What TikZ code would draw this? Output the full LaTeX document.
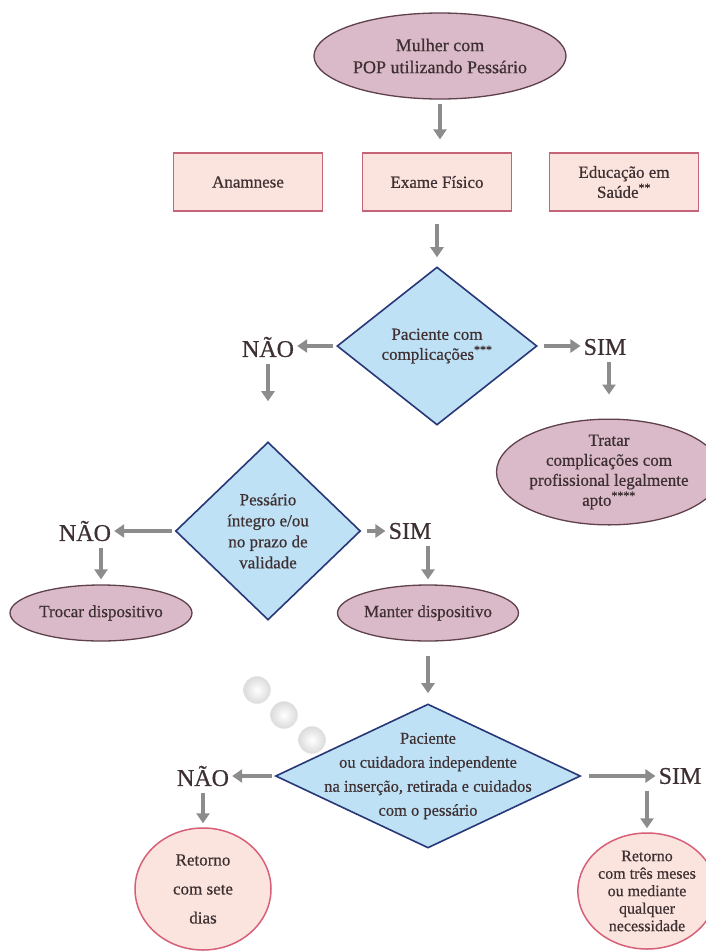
\documentclass[tikz,border=0pt]{standalone}
\usepackage{fontspec}
\setmainfont{Liberation Serif}[FakeBold=0.6]
\usetikzlibrary{shapes.geometric,arrows.meta,shadings}
\definecolor{txt}{RGB}{62,48,50}
\definecolor{ellfill}{RGB}{218,186,200}
\definecolor{elldraw}{RGB}{95,65,75}
\definecolor{boxfill}{RGB}{251,228,222}
\definecolor{boxdraw}{RGB}{196,100,120}
\definecolor{diafill}{RGB}{190,225,245}
\definecolor{diadraw}{RGB}{40,55,120}
\definecolor{cirdraw}{RGB}{215,95,120}
\definecolor{arrgray}{RGB}{140,140,140}
\tikzset{
  base/.style={text=txt,font=\fontsize{17}{20}\selectfont,align=center,inner sep=0pt},
  oval/.style={base,ellipse,draw=elldraw,fill=ellfill,line width=1.3pt},
  box/.style={base,rectangle,draw=boxdraw,fill=boxfill,line width=1.3pt,minimum width=149pt,minimum height=58pt},
  dia/.style={diamond,draw=diadraw,fill=diafill,line width=1.6pt,inner sep=0pt},
  rnd/.style={base,ellipse,draw=cirdraw,fill=boxfill,line width=1.5pt},
  yn/.style={text=txt,font=\fontsize{24}{26}\selectfont,inner sep=1pt},
  arr/.style={draw=arrgray,line width=4pt,-{Triangle[length=10pt,width=13pt]}},
  bub/.style={circle,minimum size=27pt,inner sep=0pt,shading=radial,inner color=white,outer color=gray!28,draw=gray!22}
}
\begin{document}
\begin{tikzpicture}[x=1pt,y=-1pt]
\useasboundingbox[fill=white] (0,0) rectangle (705,951);
% top
\node[oval,minimum width=252pt,minimum height=86pt,font=\fontsize{18}{22}\selectfont] (top) at (440,56) {Mulher com\\POP utilizando Pessário};
\node[box] (ana) at (248,182) {Anamnese};
\node[box] (exa) at (437,182) {Exame Físico};
\node[box] (edu) at (624,182) {Educação em\\Saúde\textsuperscript{**}};
\draw[arr,shorten <=4pt,shorten >=13pt] (top.south) -- (top.south |- exa.north);
% diamond 1
\node[dia,minimum width=200pt,minimum height=158pt] (d1) at (437,346) {};
\node[base] (t1) at (d1.center) {Paciente com\\complicações\textsuperscript{***}};
\draw[arr,shorten <=12pt,shorten >=9pt] (exa.south -| d1.north) -- (d1.north);
\node[yn] (n1) at (268,347) {NÃO};
\node[yn] (s1) at (605,347) {SIM};
\draw[arr,shorten <=3pt,shorten >=2pt] (d1.west) -- (d1.west -| n1.east);
\draw[arr,shorten <=6pt,shorten >=2pt] (d1.east) -- (d1.east -| s1.west);
% Tratar
\node[oval,minimum width=184pt,minimum height=94pt] (trat) at (609,472) {Tratar\\complicações com\\profissional legalmente\\apto\textsuperscript{****}};
\draw[arr,shorten <=6pt,shorten >=24pt] (s1.south -| trat.north) -- (trat.north);
% diamond 2
\node[dia,minimum width=185pt,minimum height=178pt] (d2) at (268,531) {};
\node[base,font=\fontsize{17}{21}\selectfont] (t2) at (d2.center) {Pessário\\íntegro e/ou\\no prazo de\\validade};
\draw[arr,shorten <=6pt,shorten >=40pt] (n1.south) -- (d2.north);
\node[yn] (n2) at (85,531) {NÃO};
\node[yn] (s2) at (410,531) {SIM};
\draw[arr,shorten <=3pt,shorten >=2pt] (d2.west) -- (n2.east);
\draw[arr,shorten <=6pt,shorten >=2pt] (d2.east) -- (s2.west);
\node[oval,minimum width=182pt,minimum height=56pt] (troc) at (101,613) {Trocar dispositivo};
\node[oval,minimum width=176pt,minimum height=56pt] (mant) at (428,613) {Manter dispositivo};
\draw[arr,shorten <=6pt,shorten >=5pt] (n2.south -| troc.north) -- (troc.north);
\draw[arr,shorten <=6pt,shorten >=5pt] (s2.south -| mant.north) -- (mant.north);
% bubbles
\node[bub] (b1) at (257,690) {};
\node[bub] (b2) at (284,715) {};
\node[bub] (b3) at (312,740) {};
% diamond 3
\node[dia,minimum width=305pt,minimum height=144pt] (d3) at (428,776) {};
\node[base,font=\fontsize{16.5}{24}\selectfont] (t3) at (d3.center) {Paciente\\ou cuidadora independente\\na inserção, retirada e cuidados\\com o pessário};
\draw[arr,shorten <=14pt,shorten >=10pt] (mant.south) -- (d3.north);
\node[yn] (n3) at (203,776) {NÃO};
\node[yn] (s3) at (680,776) {SIM};
\draw[arr,shorten <=3pt,shorten >=2pt] (d3.west) -- (n3.east);
\draw[arr,shorten <=8pt,shorten >=2pt] (d3.east) -- (s3.west);
\node[rnd,minimum width=136pt,minimum height=122pt,font=\fontsize{17}{29}\selectfont] (r1) at (203,889) {Retorno\\com sete\\dias};
\node[rnd,minimum width=120pt,minimum height=116pt,font=\fontsize{16}{17.5}\selectfont] (r2) at (647,891) {Retorno\\com três meses\\ou mediante\\qualquer\\necessidade};
\draw[arr,shorten <=6pt,shorten >=4pt] (n3.south -| r1.north) -- (r1.north);
\draw[arr,shorten <=6pt,shorten >=4pt] (s3.south -| r2.north) -- (r2.north);
\end{tikzpicture}
\end{document}
